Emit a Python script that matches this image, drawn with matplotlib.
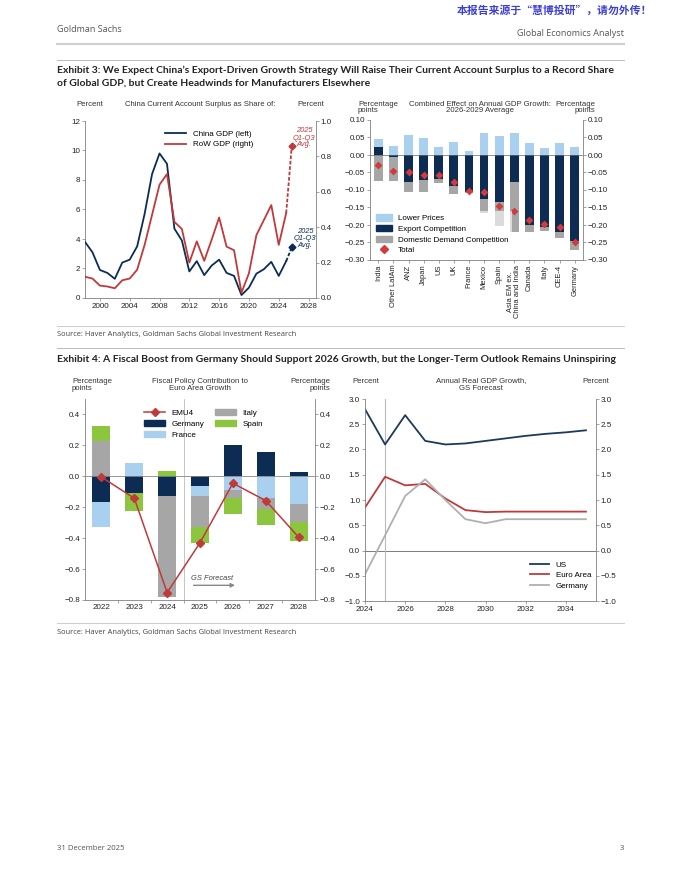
import matplotlib.pyplot as plt
from matplotlib.lines import Line2D
from matplotlib.patches import Patch
import numpy as np

# ---- data: China current account surplus ----
ca_years = list(range(1998, 2026))
china_gdp = [3.8, 3.1, 1.9, 1.7, 1.3, 2.4, 2.6, 3.5, 5.7, 8.4, 9.8, 9.1, 4.7, 3.9,
             1.8, 2.5, 1.55, 2.2, 2.6, 1.7, 1.5, 0.2, 0.7, 1.65, 1.95, 2.45, 1.5, 2.5]
row_gdp = [0.12, 0.11, 0.07, 0.065, 0.055, 0.10, 0.11, 0.16, 0.30, 0.47, 0.64, 0.70,
           0.43, 0.39, 0.20, 0.32, 0.21, 0.33, 0.455, 0.29, 0.27, 0.03, 0.14, 0.355,
           0.44, 0.525, 0.30, 0.48]
avg_year = 2025.75
china_avg = 3.43
row_avg = 0.86

# ---- data: combined effect on GDP growth ----
countries = ['India', 'Other LatAm', 'ANZ', 'Japan', 'US', 'UK', 'France', 'Mexico',
             'Spain', 'Asia EM ex.\nChina and India', 'Canada', 'Italy', 'CEE-4', 'Germany']
export_comp = [0.024, -0.005, -0.078, -0.072, -0.070, -0.090, -0.105, -0.127, -0.133,
               -0.076, -0.200, -0.205, -0.220, -0.245]
lower_prices = [0.021, 0.027, 0.056, 0.049, 0.022, 0.036, 0.010, 0.062, 0.055, 0.064,
                0.034, 0.021, 0.033, 0.023]
domestic_comp = [-0.073, -0.068, -0.027, -0.035, -0.010, -0.022, -0.005, -0.038, -0.069,
                 -0.145, -0.020, -0.012, -0.018, -0.027]
total_effect = [-0.029, -0.047, -0.050, -0.058, -0.058, -0.076, -0.104, -0.106, -0.147,
                -0.160, -0.187, -0.198, -0.207, -0.249]

# ---- data: fiscal policy contribution ----
fiscal_years = ['2022', '2023', '2024', '2025', '2026', '2027', '2028']
germany_fp = [-0.165, -0.105, -0.13, -0.065, 0.20, 0.16, 0.028]
france_fp = [-0.165, 0.085, 0.0, -0.062, -0.09, -0.14, -0.18]
italy_fp = [0.23, 0.0, -0.65, -0.203, -0.05, -0.07, -0.115]
spain_fp = [0.095, -0.12, 0.037, -0.10, -0.105, -0.105, -0.125]
emu4 = [-0.005, -0.142, -0.752, -0.43, -0.045, -0.157, -0.393]

# ---- data: real GDP growth forecast ----
gdp_years = list(range(2024, 2036))
us_gdp = [2.8, 2.1, 2.68, 2.17, 2.1, 2.12, 2.17, 2.22, 2.27, 2.31, 2.34, 2.38]
ea_gdp = [0.85, 1.46, 1.29, 1.32, 1.03, 0.80, 0.76, 0.77, 0.77, 0.77, 0.77, 0.77]
de_gdp = [-0.47, 0.30, 1.08, 1.41, 1.0, 0.62, 0.54, 0.62, 0.62, 0.62, 0.62, 0.62]

NAVY = '#0c2c54'
RED = '#c0393b'
LBLUE = '#a9d0ee'
GRAY = '#a6a6a6'
GREEN = '#8cc63f'
SPINE = '#808080'

plt.rcParams['font.family'] = ['Liberation Sans', 'DejaVu Sans']

W, H = 680, 880
fig = plt.figure(figsize=(W / 100, H / 100), dpi=100)


def box(l, t, r, b):
    return fig.add_axes([l / W, 1 - b / H, (r - l) / W, (b - t) / H])


def txt(x, y, s, **kw):
    kw.setdefault('va', 'center')
    kw.setdefault('fontsize', 5.6)
    kw.setdefault('color', '#333333')
    fig.text(x / W, 1 - y / H, s, **kw)


def hline(y, x0=57, x1=624, color='#cccccc', lw=0.8):
    fig.add_artist(Line2D([x0 / W, x1 / W], [1 - y / H, 1 - y / H], color=color, lw=lw))


def ticks(lo, hi, step):
    # rounding, plus 0.0 so the zero tick does not print as -0.00
    return np.round(np.arange(lo, hi + step / 2, step), 2) + 0.0


def style(ax, twin):
    for a in (ax, twin):
        for s in a.spines.values():
            s.set_color(SPINE)
            s.set_linewidth(0.6)
        a.spines['top'].set_visible(False)
        a.tick_params(labelsize=5.8, length=2, width=0.5, color=SPINE, pad=1.5,
                      labelcolor='#222222')
    ax.spines['right'].set_visible(False)
    twin.spines['left'].set_visible(False)
    twin.spines['bottom'].set_visible(False)


def stack(ax, x, series, colors, width):
    pos = np.zeros(len(x))
    neg = np.zeros(len(x))
    for vals, c in zip(series, colors):
        v = np.array(vals)
        bottom = np.where(v >= 0, pos, neg)
        ax.bar(x, v, width, bottom=bottom, color=c, zorder=2)
        pos = pos + np.where(v >= 0, v, 0)
        neg = neg + np.where(v < 0, v, 0)


TITLE = dict(fontsize=7.5, fontweight='bold', color='#222222', family=['Lato', 'Liberation Sans'])
SMALL = dict(fontsize=5.4, color='#444444', family='Open Sans')

# ---------------- page furniture ----------------
txt(652, 10, '本报告来源于“慧博投研”，请勿外传！', ha='right', fontsize=7.8,
    color='#3b3fd4', fontweight='bold', family=['Noto Sans CJK SC', 'DejaVu Sans'])
txt(57, 30, 'Goldman Sachs', fontsize=6.5, color='#555555', family='Open Sans')
txt(624, 33, 'Global Economics Analyst', ha='right', fontsize=6.5, color='#555555',
    family='Open Sans')
hline(44, color='#d0d0d0', lw=1.5)
hline(60, color='#bbbbbb', lw=0.7)
txt(57, 70, 'Exhibit 3: We Expect China\u2019s Export-Driven Growth Strategy Will Raise Their '
    'Current Account Surplus to a Record Share', **TITLE)
txt(57, 83, 'of Global GDP, but Create Headwinds for Manufacturers Elsewhere', **TITLE)
hline(326, color='#cccccc', lw=0.7)
txt(57, 334, 'Source: Haver Analytics, Goldman Sachs Global Investment Research', **SMALL)
hline(348, color='#bbbbbb', lw=0.7)
txt(57, 359, 'Exhibit 4: A Fiscal Boost from Germany Should Support 2026 Growth, but the '
    'Longer-Term Outlook Remains Uninspiring', **TITLE)
hline(623, color='#cccccc', lw=0.7)
txt(57, 632, 'Source: Haver Analytics, Goldman Sachs Global Investment Research', **SMALL)
txt(57, 848, '31 December 2025', fontsize=5.6, color='#555555', family='Open Sans')
txt(624, 848, '3', ha='right', fontsize=5.6, color='#555555', family='Open Sans')

# ---------------- chart 1: current account ----------------
txt(90, 104, 'Percent', ha='center')
txt(200, 104, 'China Current Account Surplus as Share of:', ha='center')
txt(311, 104, 'Percent', ha='center')

ax1 = box(85, 121, 316, 298)
ax1r = ax1.twinx()
style(ax1, ax1r)
ax1.plot(ca_years, china_gdp, color=NAVY, lw=1.3, zorder=3)
ax1.plot([ca_years[-1], avg_year], [china_gdp[-1], china_avg], color=NAVY, lw=1.3, ls=(0, (2, 1)))
ax1.plot(avg_year, china_avg, marker='D', color=NAVY, ms=3.5)
ax1r.plot(ca_years, row_gdp, color=RED, lw=1.3, zorder=3)
ax1r.plot([ca_years[-1], avg_year], [row_gdp[-1], row_avg], color=RED, lw=1.3, ls=(0, (2, 1)))
ax1r.plot(avg_year, row_avg, marker='D', color=RED, ms=3.5)
ax1.set_xlim(1998, 2029)
ax1.set_ylim(0, 12)
ax1.set_yticks(range(0, 13, 2))
ax1.set_xticks(range(2000, 2029, 4))
ax1r.set_ylim(0, 1.0)
ax1r.set_yticks(ticks(0, 1.0, 0.2))
ax1r.yaxis.set_major_formatter('{x:.1f}')
txt(304, 138, '2025\nQ1-Q3\nAvg.', ha='center', color=RED, style='italic', fontsize=5.4,
    linespacing=1.0)
txt(305, 238, '2025\nQ1-Q3\nAvg.', ha='center', color=NAVY, style='italic', fontsize=5.4,
    linespacing=1.0)
ax1.legend([Line2D([], [], color=NAVY, lw=1.3), Line2D([], [], color=RED, lw=1.3)],
           ['China GDP (left)', 'RoW GDP (right)'], loc='upper left', frameon=False,
           bbox_to_anchor=(158 / W, 1 - 123 / H), bbox_transform=fig.transFigure,
           fontsize=5.8, handlelength=2.6, handletextpad=0.8, labelspacing=0.35)

# ---------------- chart 2: combined effect ----------------
txt(358, 104, 'Percentage', ha='left')
txt(358, 111, 'points', ha='left')
txt(480, 104, 'Combined Effect on Annual GDP Growth:', ha='center')
txt(480, 111, '2026-2029 Average', ha='center')
txt(595, 104, 'Percentage', ha='right')
txt(595, 111, 'points', ha='right')

ax2 = box(370, 120, 583, 260)
ax2r = ax2.twinx()
style(ax2, ax2r)
x2 = np.arange(len(countries))
stack(ax2, x2, [export_comp, lower_prices, domestic_comp], [NAVY, LBLUE, GRAY], 0.58)
ax2.axhline(0, color='#666666', lw=0.5, zorder=2.5)
ax2.scatter(x2, total_effect, marker='D', s=16, color='#d33b3b', zorder=4, linewidths=0)
ax2.set_xlim(-0.55, len(countries) - 0.45)
for a in (ax2, ax2r):
    a.set_ylim(-0.30, 0.10)
    a.set_yticks(ticks(-0.30, 0.10, 0.05))
    a.yaxis.set_major_formatter('{x:.2f}')
ax2.set_xticks(x2)
ax2.set_xticklabels(countries, rotation=90, fontsize=5.4, linespacing=1.0)
ax2.tick_params(axis='x', length=2)
leg2 = ax2.legend([Patch(color=LBLUE), Patch(color=NAVY), Patch(color=GRAY),
                   Line2D([], [], marker='D', ls='', color='#d33b3b', ms=4)],
                  ['Lower Prices', 'Export Competition', 'Domestic Demand Competition', 'Total'],
                  loc='lower left', bbox_to_anchor=(0.0, 0.0), fontsize=5.8, frameon=True,
                  handlelength=2.0, handleheight=0.8, handletextpad=0.8, labelspacing=0.35,
                  borderaxespad=0.3, fancybox=False)
leg2.get_frame().set_facecolor('white')
leg2.get_frame().set_alpha(0.6)
leg2.get_frame().set_linewidth(0)
leg2.set_zorder(5)

# ---------------- chart 3: fiscal policy ----------------
txt(72, 381, 'Percentage', ha='left')
txt(72, 389, 'points', ha='left')
txt(200, 381, 'Fiscal Policy Contribution to', ha='center')
txt(200, 389, 'Euro Area Growth', ha='center')
txt(330, 381, 'Percentage', ha='right')
txt(330, 389, 'points', ha='right')

ax3 = box(85, 399, 315, 600)
ax3r = ax3.twinx()
style(ax3, ax3r)
x3 = np.arange(len(fiscal_years))
stack(ax3, x3, [germany_fp, france_fp, italy_fp, spain_fp], [NAVY, LBLUE, GRAY, GREEN], 0.55)
ax3.axhline(0, color='#888888', lw=0.6, zorder=2.5)
ax3.axvline(2.5, color='#bbbbbb', lw=0.6, zorder=1)
ax3.plot(x3, emu4, color='#c0393b', lw=1.1, marker='D', ms=4, zorder=4)
ax3.set_xlim(-0.5, len(fiscal_years) - 0.5)
for a in (ax3, ax3r):
    a.set_ylim(-0.8, 0.5)
    a.set_yticks(ticks(-0.8, 0.4, 0.2))
    a.yaxis.set_major_formatter('{x:.1f}')
ax3.set_xticks(x3)
ax3.set_xticklabels(fiscal_years)
ax3.set_xticks(np.arange(0.5, len(fiscal_years) - 0.5), minor=True)
ax3.tick_params(axis='x', which='major', length=0, pad=3)
ax3.tick_params(axis='x', which='minor', length=2, width=0.5, color=SPINE)
ax3.text(2.72, -0.66, 'GS Forecast', fontsize=5.4, style='italic', color='#444444', va='center')
ax3.annotate('', xy=(4.15, -0.705), xytext=(2.72, -0.705),
             arrowprops=dict(arrowstyle='-|>', color='#888888', lw=1.0, mutation_scale=6))
h_emu = Line2D([], [], color='#c0393b', lw=1.1, marker='D', ms=4)
ax3.legend([h_emu, Patch(color=NAVY), Patch(color=LBLUE), Patch(color=GRAY), Patch(color=GREEN)],
           ['EMU4', 'Germany', 'France', 'Italy', 'Spain'], ncol=2, loc='upper left',
           bbox_to_anchor=(137 / W, 1 - 402 / H), bbox_transform=fig.transFigure,
           frameon=False, fontsize=5.8, handlelength=2.6, handleheight=0.8,
           handletextpad=0.8, labelspacing=0.35, columnspacing=1.3)

# ---------------- chart 4: real GDP growth ----------------
txt(366, 381, 'Percent', ha='center')
txt(481, 381, 'Annual Real GDP Growth,', ha='center')
txt(481, 389, 'GS Forecast', ha='center')
txt(596, 381, 'Percent', ha='center')

ax4 = box(365, 399, 596, 601)
ax4r = ax4.twinx()
style(ax4, ax4r)
ax4.axhline(0, color='#666666', lw=0.6, zorder=1)
ax4.axvline(2025, color='#bbbbbb', lw=0.8, zorder=1)
ax4.plot(gdp_years, us_gdp, color='#1b3a5c', lw=1.3, label='US')
ax4.plot(gdp_years, ea_gdp, color='#c0393b', lw=1.3, label='Euro Area')
ax4.plot(gdp_years, de_gdp, color='#b0b0b0', lw=1.3, label='Germany')
ax4.set_xlim(2024, 2035.5)
ax4.set_xticks(range(2024, 2035, 2))
for a in (ax4, ax4r):
    a.set_ylim(-1.0, 3.0)
    a.set_yticks(ticks(-1.0, 3.0, 0.5))
    a.yaxis.set_major_formatter('{x:.1f}')
ax4.legend(loc='lower right', bbox_to_anchor=(1.01, 0.02), frameon=False, fontsize=5.8,
           handlelength=2.4, handletextpad=0.8, labelspacing=0.35)

fig.savefig('out.png', dpi=100, facecolor='white')
